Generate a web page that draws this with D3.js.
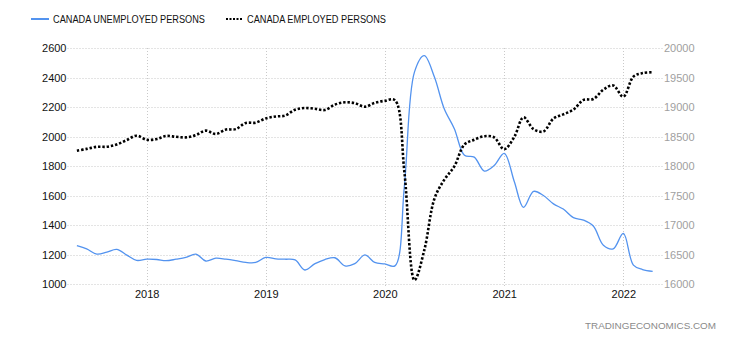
<!DOCTYPE html>
<html>
<head>
<meta charset="utf-8">
<script src="https://cdnjs.cloudflare.com/ajax/libs/d3/7.8.5/d3.min.js"></script>
<style>
  html, body { margin: 0; padding: 0; background: #fff; }
  svg { display: block; font-family: Arial, "Liberation Sans", sans-serif; }
</style>
</head>
<body>
<svg id="chart" width="730" height="340"></svg>
<script>
// ---- data (monthly, Jun 2017 .. Apr 2022), thousands ----
const months = [
  "2017-06","2017-07","2017-08","2017-09","2017-10","2017-11","2017-12",
  "2018-01","2018-02","2018-03","2018-04","2018-05","2018-06","2018-07","2018-08","2018-09","2018-10","2018-11","2018-12",
  "2019-01","2019-02","2019-03","2019-04","2019-05","2019-06","2019-07","2019-08","2019-09","2019-10","2019-11","2019-12",
  "2020-01","2020-02","2020-03","2020-04","2020-05","2020-06","2020-07","2020-08","2020-09","2020-10","2020-11","2020-12",
  "2021-01","2021-02","2021-03","2021-04","2021-05","2021-06","2021-07","2021-08","2021-09","2021-10","2021-11","2021-12",
  "2022-01","2022-02","2022-03","2022-04"
];
const unemployed = [
  1262,1240,1205,1218,1237,1198,1162,
  1170,1168,1160,1170,1182,1205,1158,1177,1170,1160,1148,1148,
  1182,1173,1170,1165,1097,1140,1168,1180,1125,1140,1199,1148,
  1138,1125,1670,2440,2550,2405,2190,2055,1875,1862,1768,1805,
  1888,1695,1522,1630,1602,1545,1510,1452,1435,1395,1265,1240,
  1345,1130,1100,1088
];
const employed = [
  18265,18295,18330,18332,18370,18445,18519,
  18450,18462,18514,18500,18490,18530,18604,18548,18622,18630,18735,18740,
  18812,18845,18860,18960,18988,18975,18955,19045,19085,19070,19010,19075,
  19110,19120,17900,16070,16580,17450,17770,18000,18370,18450,18510,18490,
  18290,18500,18830,18630,18590,18810,18880,18960,19125,19140,19300,19370,
  19180,19520,19580,19595
];
const leftTicks = [1000,1200,1400,1600,1800,2000,2200,2400,2600];
const rightTicks = [16000,16500,17000,17500,18000,18500,19000,19500,20000];
const yearTicks = ["2018","2019","2020","2021","2022"];
const seriesNames = ["CANADA UNEMPLOYED PERSONS","CANADA EMPLOYED PERSONS"];
const sourceText = "TRADINGECONOMICS.COM";

// ---- layout ----
const svg = d3.select("#chart");
const parseM = d3.timeParse("%Y-%m");
const parseY = d3.timeParse("%Y");
const dates = months.map(parseM);

const x = d3.scaleTime()
  .domain([parseY("2018"), parseY("2022")])
  .range([146.7, 623.3]);
const yL = d3.scaleLinear().domain([1000, 2600]).range([284.3, 48.3]);
const yR = d3.scaleLinear().domain([16000, 20000]).range([284.3, 48.3]);

const gridColor = "#c9c9c9";
const gridLeft = 67.5, gridRight = 662.5;

// horizontal grid
svg.append("g").selectAll("line").data(leftTicks).join("line")
  .attr("x1", gridLeft).attr("x2", gridRight)
  .attr("y1", d => Math.round(yL(d)) + 0.5).attr("y2", d => Math.round(yL(d)) + 0.5)
  .attr("stroke", gridColor).attr("stroke-width", 1).attr("stroke-dasharray", "1,2");

// vertical grid
svg.append("g").selectAll("line").data(yearTicks).join("line")
  .attr("x1", d => Math.round(x(parseY(d))) + 0.5).attr("x2", d => Math.round(x(parseY(d))) + 0.5)
  .attr("y1", 48).attr("y2", 288)
  .attr("stroke", gridColor).attr("stroke-width", 1).attr("stroke-dasharray", "1,2");

// left axis labels
const axL = d3.axisLeft(yL).tickValues(leftTicks).tickSize(0).tickPadding(0).tickFormat(d3.format("d"));
svg.append("g").attr("transform", "translate(66.5,0)").call(axL)
  .call(g => g.select(".domain").remove())
  .selectAll("text").attr("font-size", 11).attr("fill", "#111")
  .attr("font-family", "Arial, 'Liberation Sans', sans-serif");

// right axis labels
const axR = d3.axisRight(yR).tickValues(rightTicks).tickSize(0).tickPadding(0).tickFormat(d3.format("d"));
svg.append("g").attr("transform", "translate(664,0)").call(axR)
  .call(g => g.select(".domain").remove())
  .selectAll("text").attr("font-size", 11).attr("fill", "#a0a0a0")
  .attr("font-family", "Arial, 'Liberation Sans', sans-serif");

// x axis labels
const axX = d3.axisBottom(x).tickValues(yearTicks.map(parseY)).tickSize(0).tickPadding(0).tickFormat(d3.timeFormat("%Y"));
svg.append("g").attr("transform", "translate(0,290)").call(axX)
  .call(g => g.select(".domain").remove())
  .selectAll("text").attr("font-size", 11).attr("fill", "#111").attr("dy", "0.71em")
  .attr("font-family", "Arial, 'Liberation Sans', sans-serif");

// lines
const lineU = d3.line().x((d, i) => x(dates[i])).y(d => yL(d)).curve(d3.curveCatmullRom.alpha(0.5));
const lineE = d3.line().x((d, i) => x(dates[i])).y(d => yR(d)).curve(d3.curveCatmullRom.alpha(0.5));

svg.append("path").datum(unemployed).attr("d", lineU)
  .attr("fill", "none").attr("stroke", "#5393ef").attr("stroke-width", 1.3);

svg.append("path").datum(employed).attr("d", lineE)
  .attr("fill", "none").attr("stroke", "#000").attr("stroke-width", 2.6)
  .attr("stroke-dasharray", "2.4,1.9");

// legend
const lg = svg.append("g");
lg.append("line").attr("x1", 31).attr("x2", 49).attr("y1", 19).attr("y2", 19)
  .attr("stroke", "#5393ef").attr("stroke-width", 2);
lg.append("text").attr("x", 53).attr("y", 22.5).attr("font-size", 10).attr("fill", "#111")
  .attr("textLength", 152).attr("lengthAdjust", "spacingAndGlyphs").text(seriesNames[0]);
lg.append("line").attr("x1", 226).attr("x2", 242).attr("y1", 19).attr("y2", 19)
  .attr("stroke", "#000").attr("stroke-width", 2).attr("stroke-dasharray", "2,1.5");
lg.append("text").attr("x", 247).attr("y", 22.5).attr("font-size", 10).attr("fill", "#111")
  .attr("textLength", 139).attr("lengthAdjust", "spacingAndGlyphs").text(seriesNames[1]);

// source
svg.append("text").attr("x", 716).attr("y", 329).attr("text-anchor", "end")
  .attr("font-size", 9.5).attr("fill", "#8a8a8a")
  .attr("textLength", 131).attr("lengthAdjust", "spacingAndGlyphs").text(sourceText);
</script>
</body>
</html>
